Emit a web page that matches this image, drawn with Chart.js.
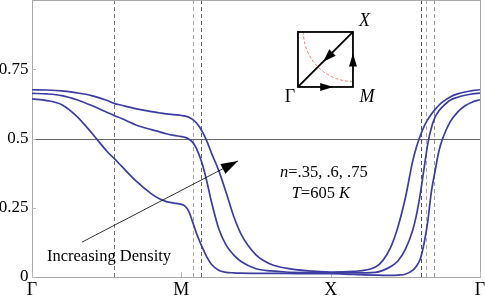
<!DOCTYPE html>
<html>
<head>
<meta charset="utf-8">
<script src="https://cdn.jsdelivr.net/npm/chart.js@4.4.0/dist/chart.umd.min.js"></script>
<style>
  html, body { margin: 0; padding: 0; background: #fff; }
  #wrap { width: 485px; height: 298px; }
</style>
</head>
<body>
<div id="wrap"><canvas id="bandChart"></canvas></div>
<script>
// position along the path Γ -> M -> X -> Γ (one unit per segment)
const pathPos = [0, 0.1, 0.2, 0.3, 0.4, 0.5, 0.55, 0.6, 0.7, 0.8, 0.85, 0.9, 0.95,
    1.0, 1.025, 1.05, 1.075, 1.1, 1.125, 1.15, 1.175, 1.2,
    1.25, 1.3, 1.35, 1.4, 1.5, 1.6, 1.7, 1.85, 2.0, 2.15, 2.3,
    2.35, 2.4, 2.45, 2.5, 2.55,
    2.575, 2.6, 2.625, 2.65, 2.675, 2.7, 2.725, 2.75,
    2.8, 2.85, 2.9, 2.95, 3.0];

// n = .35
const curveN35 = [0.643, 0.637, 0.622, 0.58, 0.52, 0.455, 0.428, 0.4, 0.345, 0.3, 0.283, 0.272, 0.267,
    0.262, 0.256, 0.237, 0.2, 0.16, 0.126, 0.095, 0.068, 0.047,
    0.024, 0.017, 0.015, 0.014, 0.013, 0.013, 0.013, 0.012, 0.012, 0.009, 0.007,
    0.006, 0.006, 0.007, 0.01, 0.025,
    0.04, 0.065, 0.12, 0.2, 0.31, 0.385, 0.455, 0.5,
    0.56, 0.595, 0.618, 0.632, 0.64];

// n = .6
const curveN60 = [0.663, 0.661, 0.655, 0.64, 0.619, 0.595, 0.583, 0.572, 0.548, 0.532, 0.525, 0.517, 0.511,
    0.507, 0.504, 0.498, 0.487, 0.465, 0.432, 0.39, 0.335, 0.275,
    0.175, 0.115, 0.08, 0.056, 0.03, 0.022, 0.018, 0.016, 0.015, 0.015, 0.017,
    0.024, 0.037, 0.058, 0.1, 0.17,
    0.225, 0.3, 0.39, 0.48, 0.54, 0.578, 0.6, 0.615,
    0.638, 0.649, 0.656, 0.661, 0.664];

// n = .75
const curveN75 = [0.676, 0.675, 0.672, 0.665, 0.655, 0.638, 0.627, 0.62, 0.607, 0.597, 0.593, 0.589, 0.586,
    0.583, 0.581, 0.577, 0.569, 0.557, 0.539, 0.515, 0.485, 0.45,
    0.385, 0.305, 0.22, 0.155, 0.08, 0.046, 0.032, 0.022, 0.018, 0.02, 0.036,
    0.06, 0.105, 0.18, 0.285, 0.42,
    0.47, 0.51, 0.543, 0.568, 0.588, 0.605, 0.62, 0.632,
    0.65, 0.661, 0.668, 0.673, 0.676];

const xTickPos = [0, 1, 2, 3];
const xTickLabels = ['Γ', 'M', 'X', 'Γ'];
const yTickPos = [0, 0.25, 0.5, 0.75];
const yTickLabels = ['0', '0.25', '0.5', '0.75'];

// dashed markers and the reference level
const dashedPos = [0.549, 1.076, 1.132, 2.607, 2.636, 2.692];
const dashedShade = ['#777', '#aaa', '#666', '#555', '#aaa', '#999'];
const refLevel = 0.5;

// annotation anchors (data units)
const arrowFrom = [0.335, 0.126];
const arrowTo = [1.379, 0.419];
const densityLabel = [0.1, 0.058];
const nLabel = [1.661, 0.361];
const tLabel = [1.739, 0.285];
const insetGamma = [1.781, 0.686];

document.addEventListener('DOMContentLoaded', function() {
    const serif = "'Liberation Serif', 'DejaVu Serif', serif";

    function drawArrowHead(ctx, x0, y0, x1, y1, len, half) {
        const ang = Math.atan2(y1 - y0, x1 - x0);
        const bx = x1 - len * Math.cos(ang);
        const by = y1 - len * Math.sin(ang);
        ctx.beginPath();
        ctx.moveTo(x1, y1);
        ctx.lineTo(bx + half * Math.sin(ang), by - half * Math.cos(ang));
        ctx.lineTo(bx - half * Math.sin(ang), by + half * Math.cos(ang));
        ctx.closePath();
        ctx.fill();
    }

    // draws pieces of text in a row, some of them italic
    function drawParts(ctx, parts, px, py, size) {
        let cx = px;
        parts.forEach(([txt, italic]) => {
            ctx.font = `${italic ? 'italic ' : ''}${size}px ${serif}`;
            ctx.fillText(txt, cx, py);
            cx += ctx.measureText(txt).width;
        });
    }

    const decor = {
        id: 'decor',
        beforeDatasetsDraw(chart) {
            const { ctx, chartArea: a, scales: { x, y } } = chart;
            ctx.save();

            // vertical dashed lines
            ctx.lineWidth = 1;
            ctx.setLineDash([4, 3]);
            dashedPos.forEach((v, i) => {
                const px = Math.round(x.getPixelForValue(v)) + 0.5;
                ctx.strokeStyle = dashedShade[i];
                ctx.beginPath();
                ctx.moveTo(px, a.top);
                ctx.lineTo(px, a.bottom);
                ctx.stroke();
            });
            ctx.setLineDash([]);

            // level 0.5
            const ry = Math.round(y.getPixelForValue(refLevel)) + 0.5;
            ctx.strokeStyle = '#666';
            ctx.beginPath();
            ctx.moveTo(a.left, ry);
            ctx.lineTo(a.right, ry);
            ctx.stroke();

            // frame
            ctx.strokeStyle = '#a8a8a8';
            ctx.strokeRect(a.left + 0.5, a.top + 0.5, a.right - a.left, a.bottom - a.top);

            // small inner ticks
            ctx.strokeStyle = '#bbb';
            yTickPos.forEach(v => {
                const py = Math.round(y.getPixelForValue(v)) + 0.5;
                ctx.beginPath();
                ctx.moveTo(a.left, py);
                ctx.lineTo(a.left + 4, py);
                ctx.stroke();
            });
            xTickPos.forEach(v => {
                const px = Math.round(x.getPixelForValue(v)) + 0.5;
                ctx.beginPath();
                ctx.moveTo(px, a.bottom);
                ctx.lineTo(px, a.bottom - 5);
                ctx.stroke();
            });

            // y labels
            ctx.fillStyle = '#000';
            ctx.font = `17px ${serif}`;
            ctx.textAlign = 'right';
            ctx.textBaseline = 'middle';
            yTickPos.forEach((v, i) => {
                ctx.fillText(yTickLabels[i], a.left - 3.5, y.getPixelForValue(v));
            });
            ctx.restore();
        },
        afterDatasetsDraw(chart) {
            const { ctx, scales: { x, y } } = chart;
            ctx.save();
            ctx.fillStyle = '#000';
            ctx.strokeStyle = '#000';

            // "Increasing Density" arrow
            const ax0 = x.getPixelForValue(arrowFrom[0]), ay0 = y.getPixelForValue(arrowFrom[1]);
            const ax1 = x.getPixelForValue(arrowTo[0]), ay1 = y.getPixelForValue(arrowTo[1]);
            ctx.lineWidth = 0.8;
            ctx.beginPath();
            ctx.moveTo(ax0, ay0);
            ctx.lineTo(ax1, ay1);
            ctx.stroke();
            drawArrowHead(ctx, ax0, ay0, ax1, ay1, 17, 5.5);

            ctx.textAlign = 'left';
            ctx.textBaseline = 'alphabetic';
            drawParts(ctx, [['Increasing Density', false]],
                x.getPixelForValue(densityLabel[0]), y.getPixelForValue(densityLabel[1]), 16.5);
            drawParts(ctx, [['n', true], ['=.35, .6, .75', false]],
                x.getPixelForValue(nLabel[0]), y.getPixelForValue(nLabel[1]), 16.5);
            drawParts(ctx, [['T', true], ['=605 ', false], ['K', true]],
                x.getPixelForValue(tLabel[0]), y.getPixelForValue(tLabel[1]), 16.5);

            // inset: path in the Brillouin zone
            const gx = x.getPixelForValue(insetGamma[0]);
            const gy = y.getPixelForValue(insetGamma[1]);
            const s = 55;

            ctx.strokeStyle = '#f77';
            ctx.lineWidth = 1;
            ctx.setLineDash([3, 2]);
            ctx.beginPath();
            ctx.arc(gx + s, gy - s, s * 0.9, Math.PI / 2, Math.PI);
            ctx.stroke();
            ctx.setLineDash([]);

            ctx.strokeStyle = '#000';
            ctx.lineWidth = 1.8;
            ctx.strokeRect(gx, gy - s, s, s);
            ctx.beginPath();
            ctx.moveTo(gx, gy);
            ctx.lineTo(gx + s, gy - s);
            ctx.stroke();

            drawArrowHead(ctx, gx, gy, gx + s * 0.64, gy, 13, 4);
            drawArrowHead(ctx, gx + s, gy, gx + s, gy - s * 0.61, 13, 4);
            drawArrowHead(ctx, gx + s, gy - s, gx + s * 0.46, gy - s * 0.46, 13, 4.5);

            ctx.textAlign = 'center';
            ctx.textBaseline = 'middle';
            ctx.font = `italic 18px ${serif}`;
            ctx.fillText('X', gx + s + 11.5, gy - s - 11);
            ctx.fillText('M', gx + s + 14, gy + 10);
            ctx.font = `18px ${serif}`;
            ctx.fillText('Γ', gx - 8, gy + 10);
            ctx.restore();
        }
    };

    function serie(vals) {
        return {
            data: pathPos.map((p, i) => ({ x: p, y: vals[i] })),
            borderColor: '#3c3ca2',
            borderWidth: 1.7,
            pointRadius: 0,
            fill: false,
            cubicInterpolationMode: 'monotone'
        };
    }

    const ctx = document.getElementById('bandChart').getContext('2d');
    new Chart(ctx, {
        type: 'line',
        data: { datasets: [serie(curveN35), serie(curveN60), serie(curveN75)] },
        options: {
            responsive: true,
            maintainAspectRatio: false,
            animation: false,
            layout: { padding: { left: 0, right: 5, top: 0, bottom: 0 } },
            plugins: { legend: { display: false }, tooltip: { enabled: false } },
            scales: {
                x: {
                    type: 'linear',
                    min: 0,
                    max: 3,
                    afterBuildTicks: axis => { axis.ticks = xTickPos.map(v => ({ value: v })); },
                    afterFit: axis => {
                        axis.height = 21;
                        axis.paddingLeft = 0;
                        axis.paddingRight = 0;
                    },
                    ticks: {
                        callback: (v, i) => xTickLabels[i],
                        autoSkip: false,
                        maxRotation: 0,
                        padding: 2,
                        color: '#000',
                        font: { family: serif, size: 18 }
                    },
                    grid: { display: false, drawTicks: false },
                    border: { display: false }
                },
                y: {
                    min: 0,
                    max: 1,
                    afterFit: axis => { axis.width = 32; },
                    ticks: { display: false },
                    grid: { display: false, drawTicks: false },
                    border: { display: false }
                }
            }
        },
        plugins: [decor]
    });
});
</script>
</body>
</html>
